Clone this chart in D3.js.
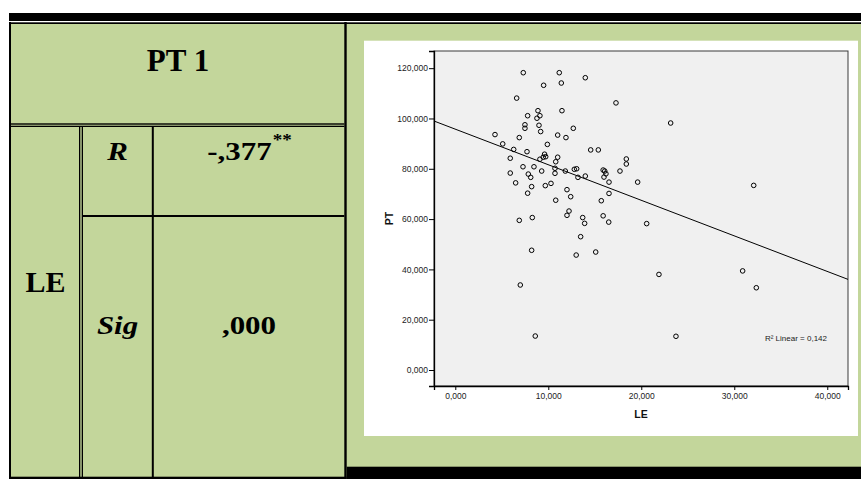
<!DOCTYPE html>
<html>
<head>
<meta charset="utf-8">
<script src="https://cdn.jsdelivr.net/npm/d3@7/dist/d3.min.js"></script>
<style>
  html, body { margin: 0; padding: 0; background: #ffffff; }
  svg { display: block; }
</style>
</head>
<body>
<script>
// ---------- data ----------
const leValues = [7.31, 11.18, 11.40, 9.50, 13.98, 6.60, 11.47, 8.89, 7.78, 9.10,
  8.78, 7.49, 7.49, 9.00, 9.18, 12.69, 4.27, 6.88, 11.01, 11.90,
  5.10, 9.90, 6.28, 7.71, 14.56, 15.38, 9.60, 9.72, 9.46, 11.01,
  9.10, 5.91, 10.80, 7.28, 8.46, 10.72, 11.83, 12.80, 13.05, 9.29,
  5.91, 7.85, 8.11, 10.72, 13.19, 13.98, 6.49, 10.29, 9.68, 8.21,
  7.78, 12.01, 12.41, 10.80, 15.90, 16.07, 16.20, 15.99, 16.53, 16.53,
  15.70, 6.88, 8.28, 12.01, 12.23, 13.70, 13.91, 15.90, 16.50, 13.48,
  8.21, 13.00, 15.10, 6.99, 8.60, 17.28, 23.16, 18.39, 18.39, 17.71,
  19.61, 20.58, 32.09, 21.90, 30.90, 32.37, 23.73];
const ptValues = [118.2, 118.2, 114.1, 113.2, 116.2, 108.1, 103.1, 103.1, 101.1, 101.1,
  100.1, 97.5, 96.1, 97.3, 94.8, 96.1, 93.6, 92.4, 93.4, 92.4,
  89.9, 89.7, 87.7, 86.8, 87.5, 87.5, 85.8, 84.8, 84.6, 84.6,
  83.8, 84.2, 82.8, 80.8, 80.8, 80.2, 79.1, 79.8, 80.0, 79.1,
  78.3, 77.9, 76.6, 78.2, 76.6, 77.1, 74.4, 74.2, 73.3, 72.9,
  70.3, 71.7, 68.9, 67.5, 79.5, 79.1, 78.0, 76.7, 74.7, 70.2,
  67.3, 59.5, 60.6, 61.5, 63.2, 60.6, 58.3, 61.3, 58.8, 53.0,
  47.6, 45.7, 46.9, 33.8, 13.5, 106.2, 98.2, 83.9, 81.9, 79.1,
  74.7, 58.2, 73.4, 38.0, 39.4, 32.7, 13.4];

const xTickValues = [0, 10, 20, 30, 40];
const xTickLabels = ["0,000", "10,000", "20,000", "30,000", "40,000"];
const yTickValues = [0, 20, 40, 60, 80, 100, 120];
const yTickLabels = ["0,000", "20,000", "40,000", "60,000", "80,000", "100,000", "120,000"];

const fitIntercept = 95.75;   // PT at LE = 0
const fitSlope = -1.414;      // PT per unit LE
const r2Label = "R\u00B2 Linear = 0,142";

const headerLabel = "PT 1";
const rowLabel = "LE";
const statNames = ["R", "Sig"];
const statValues = ["-,377", ",000"];
const statMarks = ["**", ""];
const xAxisTitle = "LE";
const yAxisTitle = "PT";

// ---------- layout ----------
const W = 861, H = 479;
const GREEN = "#c3d69b";
const svg = d3.select("body").append("svg").attr("width", W).attr("height", H);

svg.append("rect").attr("x", 0).attr("y", 0).attr("width", W).attr("height", H).attr("fill", "#fff");
// green cells
svg.append("rect").attr("x", 11).attr("y", 24).attr("width", W - 11).attr("height", 453).attr("fill", GREEN);

const blk = (x, y, w, h) => svg.append("rect").attr("x", x).attr("y", y).attr("width", w).attr("height", h).attr("fill", "#000");
blk(9, 13, W - 9, 8);          // top thick
blk(9, 22.3, W - 9, 1.7);      // top thin
blk(9, 22, 2, 457);            // left border
blk(11, 123.3, 333.3, 1.4);    // header bottom (double)
blk(11, 125.7, 333.3, 1.3);
blk(344.3, 22, 2.4, 457);      // divider to chart cell
blk(79, 127, 1.3, 350);        // LE column double line
blk(81.7, 127, 1.3, 350);
blk(151.8, 127, 2, 350);       // R/Sig column line
blk(83, 215, 261.3, 2);        // R / Sig divider
blk(9, 476.7, 337.7, 2.3);     // bottom (left part)
blk(346.7, 466.7, W - 346.7, 12.3); // bottom (chart cell)

// ---------- table text ----------
const serif = "'Liberation Serif', 'Times New Roman', serif";
svg.append("text").attr("x", 178).attr("y", 70.7).attr("text-anchor", "middle")
  .attr("font-family", serif).attr("font-weight", "bold").attr("font-size", 31).text(headerLabel);
svg.append("text").attr("x", 45.5).attr("y", 291.7).attr("text-anchor", "middle")
  .attr("font-family", serif).attr("font-weight", "bold").attr("font-size", 30).text(rowLabel);

const stretch = 1.19;
const rowBase = [160, 334];
statNames.forEach((s, i) => {
  svg.append("text").attr("transform", `translate(117.5,${rowBase[i]}) scale(${stretch},1)`)
    .attr("text-anchor", "middle").attr("font-family", serif).attr("font-weight", "bold")
    .attr("font-style", "italic").attr("font-size", 26).text(s);
});
statValues.forEach((v, i) => {
  const g = svg.append("g");
  const t = g.append("text").attr("font-family", serif).attr("font-weight", "bold")
    .attr("font-size", 26).attr("text-anchor", "start").text(v);
  const m = g.append("text").attr("font-family", serif).attr("font-weight", "bold")
    .attr("font-size", 16).attr("text-anchor", "start").text(statMarks[i]);
  const w1 = t.node().getComputedTextLength() * stretch;
  const w2 = statMarks[i] ? m.node().getComputedTextLength() * stretch : 0;
  const x0 = 249 - (w1 + w2) / 2;
  t.attr("transform", `translate(${x0},${rowBase[i]}) scale(${stretch},1)`);
  m.attr("transform", `translate(${x0 + w1 + 1},${rowBase[i] - 15.5}) scale(${stretch},1)`);
});

// ---------- chart ----------
svg.append("rect").attr("x", 364).attr("y", 40.7).attr("width", 494).attr("height", 395.3).attr("fill", "#fff");

const pl = 434, pr = 848, pt = 51, pb = 386;
const x = d3.scaleLinear().domain([-2.29, 42.23]).range([pl, pr]);
const y = d3.scaleLinear().domain([-6.36, 126.83]).range([pb, pt]);

svg.append("rect").attr("x", pl).attr("y", pt).attr("width", pr - pl).attr("height", pb - pt)
  .attr("fill", "#f0f0f0").attr("stroke", "#3a3a3a").attr("stroke-width", 1);

const sans = "'Liberation Sans', Arial, sans-serif";
const yAxis = svg.append("g").attr("transform", `translate(${pl},0)`)
  .call(d3.axisLeft(y).tickValues(yTickValues).tickSize(5).tickPadding(1)
    .tickFormat((d, i) => yTickLabels[i]));
const xAxis = svg.append("g").attr("transform", `translate(0,${pb})`)
  .call(d3.axisBottom(x).tickValues(xTickValues).tickSize(4).tickPadding(3)
    .tickFormat((d, i) => xTickLabels[i]));
[xAxis, yAxis].forEach(a => {
  a.select(".domain").attr("stroke", "#000").attr("stroke-width", 1.3);
  a.selectAll(".tick line").attr("stroke", "#000");
  a.selectAll(".tick text").attr("font-family", sans).attr("font-size", 8.5).attr("fill", "#222");
});

// regression line clipped to plot x range
const [d0, d1] = x.domain();
svg.append("line")
  .attr("x1", x(d0)).attr("y1", y(fitIntercept + fitSlope * d0))
  .attr("x2", x(d1)).attr("y2", y(fitIntercept + fitSlope * d1))
  .attr("stroke", "#000").attr("stroke-width", 1);

// points
svg.append("g").selectAll("circle").data(leValues.map((v, i) => [v, ptValues[i]]))
  .join("circle").attr("cx", d => x(d[0])).attr("cy", d => y(d[1])).attr("r", 2.3)
  .attr("fill", "none").attr("stroke", "#000").attr("stroke-width", 1);

svg.append("text").attr("x", 827).attr("y", 341).attr("text-anchor", "end")
  .attr("font-family", sans).attr("font-size", 8).attr("fill", "#222").text(r2Label);

svg.append("text").attr("x", (pl + pr) / 2).attr("y", 418).attr("text-anchor", "middle")
  .attr("font-family", sans).attr("font-weight", "bold").attr("font-size", 10.5).attr("fill", "#111").text(xAxisTitle);
svg.append("text").attr("transform", `translate(393,${(pt + pb) / 2}) rotate(-90)`).attr("text-anchor", "middle")
  .attr("font-family", sans).attr("font-weight", "bold").attr("font-size", 10.5).attr("fill", "#111").text(yAxisTitle);
</script>
</body>
</html>
